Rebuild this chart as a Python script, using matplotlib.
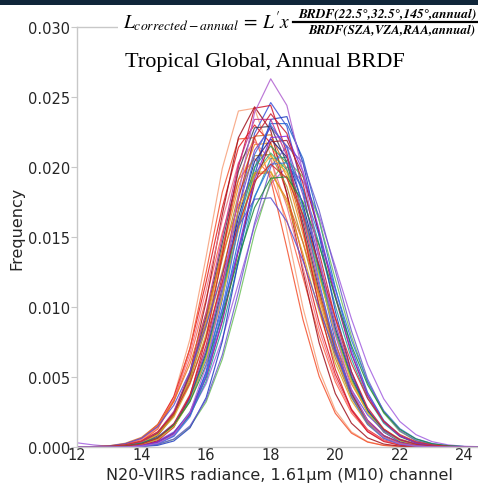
import matplotlib
matplotlib.use("Agg")
import matplotlib.pyplot as plt
from matplotlib.patches import Rectangle
from matplotlib.lines import Line2D
from matplotlib.ticker import FormatStrFormatter

# radiance grid (x values)
radiance = [12.0, 12.5, 13.0, 13.5, 14.0, 14.5, 15.0, 15.5, 16.0, 16.5, 17.0, 17.5, 18.0,
            18.5, 19.0, 19.5, 20.0, 20.5, 21.0, 21.5, 22.0, 22.5, 23.0, 23.5, 24.0, 24.5, 25.0]

# frequency of each curve, in units of 0.001
curves_e3 = [
    [0, 0, 0, 0.01, 0.06, 0.26, 0.87, 2.47, 5.79, 11.2, 18.0, 23.9, 26.3, 24.4, 19.6, 13.5, 8.05, 4.13, 1.84, 0.70, 0.23, 0.07, 0.02, 0, 0, 0, 0],
    [0, 0, 0.03, 0.12, 0.44, 1.40, 3.62, 7.72, 13.6, 19.9, 24.0, 24.2, 20.8, 15.5, 9.94, 5.51, 2.63, 1.08, 0.38, 0.12, 0.03, 0.01, 0, 0, 0, 0, 0],
    [0, 0, 0, 0.01, 0.06, 0.24, 0.81, 2.31, 5.41, 10.5, 16.9, 22.4, 24.6, 22.9, 18.3, 12.6, 7.53, 3.86, 1.72, 0.65, 0.22, 0.06, 0.01, 0, 0, 0, 0],
    [0, 0, 0.01, 0.06, 0.24, 0.80, 2.28, 5.35, 10.4, 16.6, 22.1, 24.3, 22.6, 18.1, 12.5, 7.44, 3.82, 1.70, 0.65, 0.21, 0.06, 0.01, 0, 0, 0, 0, 0],
    [0, 0, 0, 0, 0.03, 0.12, 0.43, 1.37, 3.53, 7.54, 13.3, 19.4, 23.4, 23.6, 20.3, 15.1, 9.70, 5.38, 2.57, 1.06, 0.37, 0.12, 0.03, 0.01, 0, 0, 0],
    [0, 0, 0, 0.03, 0.12, 0.45, 1.41, 3.65, 7.79, 13.7, 20.0, 24.2, 24.4, 21.0, 15.6, 10.0, 5.56, 2.65, 1.09, 0.39, 0.12, 0.03, 0.01, 0, 0, 0, 0],
    [0, 0.01, 0.06, 0.20, 0.61, 1.61, 3.61, 7.04, 11.8, 17.1, 21.4, 23.0, 21.7, 18.1, 13.5, 8.88, 5.20, 2.71, 1.24, 0.51, 0.19, 0.06, 0.02, 0, 0, 0, 0],
    [0, 0.01, 0.03, 0.11, 0.34, 0.97, 2.35, 4.93, 8.89, 13.9, 18.6, 21.6, 21.7, 19.3, 15.2, 10.6, 6.60, 3.65, 1.78, 0.77, 0.30, 0.10, 0.03, 0.01, 0, 0, 0],
    [0, 0, 0.01, 0.05, 0.19, 0.57, 1.51, 3.38, 6.58, 11.1, 16.0, 20.0, 21.5, 20.3, 16.9, 12.6, 8.30, 4.86, 2.54, 1.16, 0.47, 0.17, 0.06, 0.02, 0, 0, 0],
    [0, 0, 0.01, 0.03, 0.11, 0.37, 1.03, 2.51, 5.26, 9.49, 14.8, 19.9, 23.1, 23.1, 20.6, 16.2, 11.4, 7.05, 3.90, 1.90, 0.82, 0.32, 0.11, 0.04, 0.01, 0, 0],
    [0, 0, 0.01, 0.06, 0.20, 0.61, 1.60, 3.58, 6.98, 11.7, 17.0, 21.2, 22.8, 21.5, 18.0, 13.4, 8.80, 5.15, 2.69, 1.23, 0.50, 0.18, 0.06, 0.02, 0, 0, 0],
    [0, 0.01, 0.03, 0.11, 0.36, 1.02, 2.48, 5.20, 9.37, 14.6, 19.7, 22.8, 22.9, 20.3, 16.0, 11.2, 6.96, 3.85, 1.88, 0.81, 0.32, 0.11, 0.03, 0.01, 0, 0, 0],
    [0, 0, 0.01, 0.03, 0.10, 0.33, 0.92, 2.25, 4.70, 8.48, 13.2, 17.8, 20.6, 20.7, 18.4, 14.5, 10.1, 6.30, 3.49, 1.70, 0.74, 0.29, 0.10, 0.03, 0.01, 0, 0],
    [0, 0.01, 0.03, 0.10, 0.33, 0.93, 2.27, 4.75, 8.56, 13.4, 18.0, 20.8, 20.9, 18.6, 14.6, 10.2, 6.36, 3.52, 1.72, 0.74, 0.29, 0.10, 0.03, 0.01, 0, 0, 0],
    [0, 0, 0.02, 0.11, 0.41, 1.28, 3.31, 7.07, 12.5, 18.2, 22.0, 22.1, 19.1, 14.2, 9.09, 5.04, 2.41, 0.99, 0.35, 0.11, 0.03, 0.01, 0, 0, 0, 0, 0],
    [0, 0, 0.01, 0.06, 0.19, 0.59, 1.54, 3.45, 6.73, 11.3, 16.4, 20.4, 22.0, 20.7, 17.3, 12.9, 8.49, 4.97, 2.60, 1.19, 0.48, 0.18, 0.06, 0.02, 0, 0, 0],
    [0, 0.01, 0.03, 0.11, 0.37, 1.05, 2.55, 5.33, 9.62, 15.0, 20.2, 23.4, 23.4, 20.8, 16.4, 11.5, 7.14, 3.95, 1.93, 0.83, 0.32, 0.11, 0.04, 0.01, 0, 0, 0],
    [0, 0, 0, 0.01, 0.05, 0.18, 0.55, 1.44, 3.22, 6.27, 10.5, 15.3, 19.0, 20.5, 19.3, 16.2, 12.0, 7.91, 4.63, 2.42, 1.11, 0.45, 0.17, 0.05, 0.02, 0, 0],
    [0, 0, 0.01, 0.05, 0.18, 0.55, 1.46, 3.27, 6.36, 10.7, 15.5, 19.3, 20.8, 19.6, 16.4, 12.2, 8.03, 4.70, 2.45, 1.12, 0.46, 0.17, 0.05, 0.02, 0, 0, 0],
    [0, 0.01, 0.05, 0.19, 0.58, 1.53, 3.42, 6.67, 11.2, 16.2, 20.3, 21.8, 20.5, 17.2, 12.8, 8.41, 4.93, 2.57, 1.18, 0.48, 0.18, 0.06, 0.02, 0, 0, 0, 0],
    [0, 0, 0.01, 0.03, 0.11, 0.35, 0.98, 2.38, 4.97, 8.97, 14.0, 18.8, 21.8, 21.9, 19.4, 15.3, 10.7, 6.66, 3.69, 1.80, 0.78, 0.30, 0.10, 0.03, 0.01, 0, 0],
    [0.01, 0.03, 0.08, 0.24, 0.63, 1.46, 2.99, 5.40, 8.69, 12.4, 15.8, 17.7, 17.8, 16.1, 13.3, 9.90, 6.70, 4.10, 2.29, 1.15, 0.52, 0.22, 0.08, 0.03, 0.01, 0, 0],
    [0.30, 0.15, 0.05, 0.05, 0.16, 0.44, 1.08, 2.36, 4.52, 7.72, 11.7, 15.8, 18.8, 20.0, 19.0, 16.5, 12.9, 9.16, 5.90, 3.44, 1.82, 0.88, 0.38, 0.15, 0.05, 0.02, 0.01],
    [0, 0, 0.03, 0.09, 0.27, 0.68, 1.58, 3.24, 5.85, 9.42, 13.5, 17.1, 19.2, 19.3, 17.5, 14.4, 10.7, 7.25, 4.45, 2.48, 1.25, 0.57, 0.23, 0.09, 0.03, 0.01, 0],
    [0.01, 0.03, 0.09, 0.27, 0.69, 1.60, 3.29, 5.94, 9.56, 13.7, 17.3, 19.5, 19.6, 17.7, 14.6, 10.9, 7.37, 4.51, 2.51, 1.27, 0.57, 0.24, 0.09, 0.03, 0.01, 0, 0],
    [0, 0, 0.03, 0.10, 0.28, 0.72, 1.66, 3.40, 6.15, 9.90, 14.1, 17.9, 20.2, 20.3, 18.4, 15.1, 11.3, 7.63, 4.67, 2.60, 1.31, 0.59, 0.25, 0.09, 0.03, 0.01, 0],
    [0, 0.02, 0.05, 0.16, 0.44, 1.09, 2.38, 4.57, 7.80, 11.8, 15.9, 19.0, 20.2, 19.2, 16.6, 13.0, 9.25, 5.96, 3.47, 1.84, 0.89, 0.38, 0.15, 0.05, 0.02, 0, 0],
    [0, 0, 0.01, 0.06, 0.21, 0.63, 1.67, 3.74, 7.28, 12.2, 17.7, 22.1, 23.8, 22.4, 18.8, 13.9, 9.19, 5.38, 2.81, 1.29, 0.52, 0.19, 0.06, 0.02, 0, 0, 0],
    [0, 0.01, 0.03, 0.11, 0.35, 0.99, 2.42, 5.06, 9.13, 14.2, 19.1, 22.2, 22.3, 19.8, 15.6, 10.9, 6.78, 3.75, 1.83, 0.79, 0.31, 0.11, 0.03, 0.01, 0, 0, 0],
    [0, 0, 0.01, 0.03, 0.11, 0.35, 0.99, 2.41, 5.04, 9.09, 14.2, 19.1, 22.1, 22.2, 19.7, 15.5, 10.9, 6.75, 3.74, 1.82, 0.79, 0.31, 0.11, 0.03, 0.01, 0, 0],
    [0, 0.01, 0.05, 0.18, 0.55, 1.44, 3.23, 6.30, 10.6, 15.3, 19.1, 20.6, 19.4, 16.2, 12.1, 7.95, 4.66, 2.43, 1.11, 0.45, 0.17, 0.05, 0.02, 0, 0, 0, 0],
    [0, 0, 0.01, 0.05, 0.18, 0.56, 1.47, 3.30, 6.43, 10.8, 15.6, 19.5, 21.0, 19.8, 16.5, 12.3, 8.11, 4.75, 2.48, 1.13, 0.46, 0.17, 0.05, 0.02, 0, 0, 0],
    [0, 0, 0, 0.01, 0.06, 0.22, 0.76, 2.16, 5.06, 9.82, 15.8, 20.9, 23.0, 21.4, 17.1, 11.8, 7.04, 3.61, 1.61, 0.61, 0.20, 0.06, 0.01, 0, 0, 0, 0],
    [0, 0.01, 0.03, 0.10, 0.31, 0.88, 2.14, 4.48, 8.08, 12.6, 16.9, 19.6, 19.7, 17.5, 13.8, 9.66, 6.00, 3.32, 1.62, 0.70, 0.27, 0.09, 0.03, 0.01, 0, 0, 0],
    [0, 0, 0, 0.01, 0.05, 0.19, 0.57, 1.51, 3.38, 6.58, 11.1, 16.0, 20.0, 21.5, 20.3, 16.9, 12.6, 8.30, 4.86, 2.54, 1.16, 0.47, 0.17, 0.06, 0.02, 0, 0],
]

curve_colors = [
    "#b060d0", "#f7a07a", "#3a4fd8", "#a0101c", "#1f3cc0", "#d0142c",
    "#e31a1c", "#f28e1c", "#2ca25f", "#2166d0", "#7b3fbf", "#3b3b4f",
    "#1f9e9e", "#a8842a", "#f4502c", "#1c1c80", "#c2308f", "#6cc05a",
    "#f0b429", "#f07080", "#9e1a2a", "#5a4fcf", "#a25ee0", "#1f8a3c",
    "#e8731c", "#2f6fe0", "#d42a2a", "#c81e32", "#d2691e", "#8a2be2",
    "#ff6347", "#3cb371", "#4169e1", "#daa520", "#6a5acd",
]

x_ticks = [12, 14, 16, 18, 20, 22, 24]
y_ticks = [0.000, 0.005, 0.010, 0.015, 0.020, 0.025, 0.030]

plt.rcParams["mathtext.fontset"] = "stix"

W, H = 478, 489
fig = plt.figure(figsize=(W / 100, H / 100), dpi=100)
fig.patch.set_facecolor("white")
ax = fig.add_axes([77 / W, 41 / H, (W - 77) / W, 420 / H])

draw_order = [22, 1, 6, 2, 12, 7, 30, 9, 14, 3, 17, 28, 10, 19, 4, 13, 31, 11, 24, 15, 33,
              8, 20, 25, 5, 34, 18, 16, 29, 21, 23, 27, 26, 32, 0]
for i in draw_order:
    ax.plot(radiance, [v * 0.001 for v in curves_e3[i]], color=curve_colors[i], lw=0.85, alpha=0.85)

ax.set_xlim(12, 24.42)
ax.set_ylim(0, 0.030)
ax.set_xticks(x_ticks)
ax.set_yticks(y_ticks)
ax.yaxis.set_major_formatter(FormatStrFormatter("%.3f"))
for s in ["left", "bottom", "top"]:
    ax.spines[s].set_color("#c8c8c8")
    ax.spines[s].set_linewidth(1.0)
ax.spines["right"].set_visible(False)
ax.tick_params(axis="both", colors="#c8c8c8", labelcolor="#262626", labelsize=10.5, length=4, width=0.8)
ax.tick_params(axis="y", pad=1)
ax.tick_params(axis="x", pad=0, length=0)

# dark band at top
fig.add_artist(Rectangle((0, 1 - 6 / H), 1, 6 / H, transform=fig.transFigure,
                         facecolor="#10263a", edgecolor="none", zorder=10))
# white box behind the formula
fig.add_artist(Rectangle((118 / W, 1 - 44 / H), (W - 118) / W, 37 / H, transform=fig.transFigure,
                         facecolor="white", edgecolor="none", zorder=9))

fig.text(123 / W, 1 - 28 / H, r"$L_{corrected-annual}\,=\,L'x$", fontsize=14, ha="left",
         va="baseline", zorder=11)
fig.text(388 / W, 1 - 15 / H, "BRDF(22.5°,32.5°,145°,annual)", family="STIXGeneral",
         style="italic", weight="bold", fontsize=9.6, ha="center", va="center", zorder=11)
fig.add_artist(Line2D([293 / W, 1.0], [1 - 23 / H, 1 - 23 / H], transform=fig.transFigure,
                      color="black", lw=1.6, zorder=11))
fig.text(392 / W, 1 - 31 / H, "BRDF(SZA,VZA,RAA,annual)", family="STIXGeneral",
         style="italic", weight="bold", fontsize=9.4, ha="center", va="center", zorder=11)

fig.text(265 / W, 1 - 63 / H, "Tropical Global, Annual BRDF", family="Liberation Serif",
         fontsize=16, ha="center", va="center", zorder=11)
fig.text(17 / W, 1 - 228 / H, "Frequency", fontsize=11.5, rotation=90, ha="center",
         va="center", color="#262626")
fig.text(279 / W, 1 - 476 / H, "N20-VIIRS radiance, 1.61μm (M10) channel", fontsize=11.5,
         ha="center", va="center", color="#262626")

fig.savefig("out.png", dpi=100)
